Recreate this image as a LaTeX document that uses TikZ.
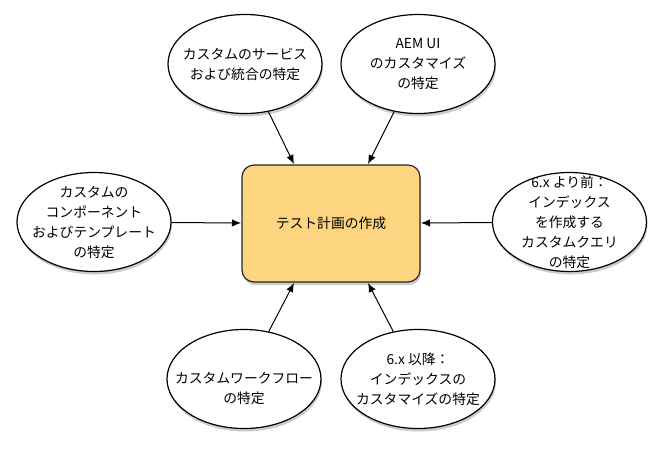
\documentclass[tikz,border=0pt]{standalone}
\usepackage{fontspec}
\setmainfont{Noto Sans CJK JP}
\usetikzlibrary{shapes.geometric,shadows,arrows.meta}
\definecolor{boxfill}{HTML}{FDD47F}
\begin{document}
\begin{tikzpicture}[x=1pt,y=-1pt,
  bubble/.style={ellipse,draw=black,line width=1.2pt,fill=white,
    minimum width=154pt,minimum height=99pt,inner sep=0pt,
    drop shadow={shadow xshift=1pt,shadow yshift=-3pt,opacity=0.4},
    label={[align=center,font=\fontsize{13.8}{20}\selectfont]center:#1}},
  arr/.style={line width=1pt,-{Latex[length=9pt,width=7.5pt]}}]
\useasboundingbox (0,0) rectangle (661,448);
\node[draw=black!85,line width=1.2pt,fill=boxfill,rounded corners=12pt,minimum width=178pt,minimum height=117pt,
  font=\fontsize{13.8}{20}\selectfont,
  drop shadow={shadow xshift=1pt,shadow yshift=-3pt,opacity=0.4}] (c) at (331,223.5) {テスト計画の作成};
\node[bubble={カスタムのサービス\\および統合の特定}] (tl) at (245,64) {};
\node[bubble={AEM UI\\のカスタマイズ\\の特定}] (tr) at (418,64) {};
\node[bubble={カスタムの\\コンポーネント\\およびテンプレート\\の特定}] (l) at (94,222) {};
\node[bubble={6.x より前：\\インデックス\\を作成する\\カスタムクエリ\\の特定}] (r) at (569.5,222) {};
\node[ellipse,draw=black,line width=1.2pt,fill=white,minimum width=154pt,minimum height=99pt,inner sep=0pt,
    drop shadow={shadow xshift=1pt,shadow yshift=-3pt,opacity=0.4},
    label={[align=center,font=\fontsize{13.8}{20}\selectfont,yshift=-9pt]center:カスタムワークフロー\\の特定}] (bl) at (244,379) {};
\node[bubble={6.x 以降：\\インデックスの\\カスタマイズの特定}] (br) at (418,379) {};
\coordinate (ctl) at (294,164);
\coordinate (ctr) at (368,164);
\coordinate (cl) at (241,223);
\coordinate (cr) at (421,223);
\coordinate (cbl) at (294,283);
\coordinate (cbr) at (368,283);
\draw[arr] (tl) -- (ctl);
\draw[arr] (tr) -- (ctr);
\draw[arr] (l) -- (cl);
\draw[arr] (r) -- (cr);
\draw[arr] (bl) -- (cbl);
\draw[arr] (br) -- (cbr);
\end{tikzpicture}
\end{document}
